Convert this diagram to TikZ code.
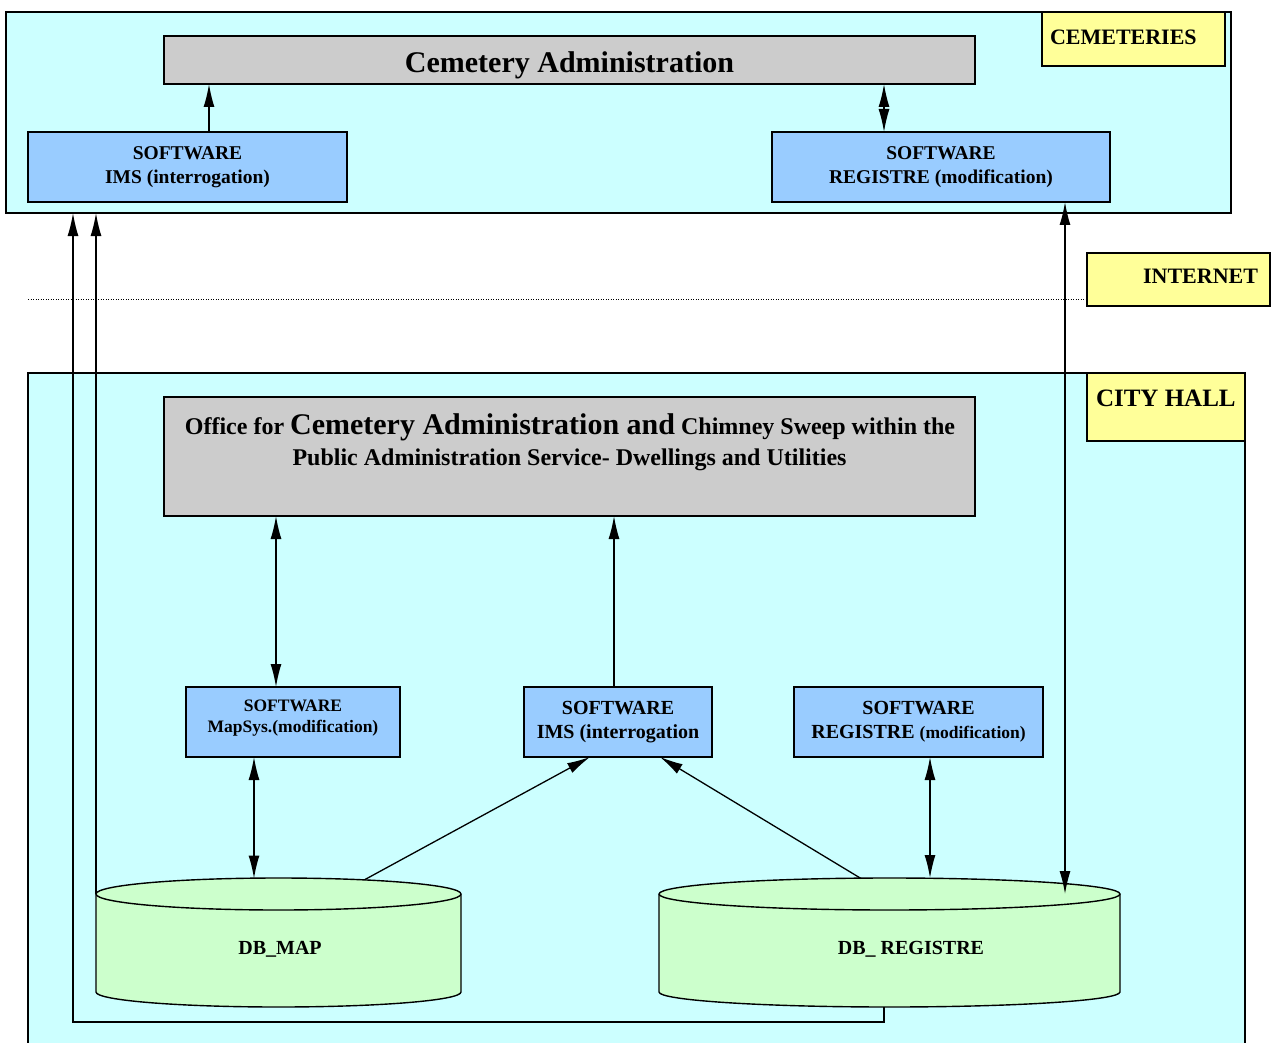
\documentclass[tikz,border=0pt]{standalone}
\usepackage{fontspec}
\setmainfont{Liberation Serif}
\usetikzlibrary{arrows.meta,calc}
\definecolor{cyanbg}{HTML}{CCFFFF}
\definecolor{graybox}{HTML}{CCCCCC}
\definecolor{bluebox}{HTML}{99CCFF}
\definecolor{yellowbox}{HTML}{FFFF99}
\definecolor{greendb}{HTML}{CCFFCC}
\newcommand\myfs[2]{\fontsize{#1}{#2}\selectfont}
\begin{document}
\begin{tikzpicture}[x=1pt,y=-1pt,
  box/.style={draw=black, line width=1.4pt, outer sep=0pt, inner sep=0pt},
  region/.style={box, fill=cyanbg},
  adminbox/.style={box, fill=graybox},
  soft/.style={box, fill=bluebox},
  tagbox/.style={box, fill=yellowbox},
  db/.style={draw=black, line width=1.4pt, fill=greendb},
  txt/.style={inner sep=0pt, outer sep=0pt, align=center, font=\bfseries},
  arr/.style={line width=1.3pt, -{Latex[length=23pt,width=11pt]}},
  darr/.style={line width=1.3pt, {Latex[length=23pt,width=11pt]}-{Latex[length=23pt,width=11pt]}},
]
\useasboundingbox (0,0) rectangle (1274,1043);
\clip (0,0) rectangle (1274,1043);

% regions
\node[region, minimum width=1225pt, minimum height=201pt] (cem) at (618.5,112.5) {};
\node[region, minimum width=1217pt, minimum height=700pt] (city) at (636.5,723) {};

% tags
\node[tagbox, minimum width=183pt, minimum height=54pt] (tcem) at (1133.5,39) {};
\node[txt, anchor=base west, font=\bfseries\myfs{22}{26}] (tcemt) at (1050,44.5) {CEMETERIES};
\node[tagbox, minimum width=183pt, minimum height=53pt] (tint) at (1178.5,279.5) {};
\node[txt, anchor=base east, font=\bfseries\myfs{22}{26}] (tintt) at (1258,283) {INTERNET};
\node[tagbox, minimum width=158pt, minimum height=68pt] (tcity) at (1166,407) {};
\node[txt, anchor=base west, font=\bfseries\myfs{25}{29}] (tcityt) at (1096,406) {CITY HALL};

% internet dotted line
\draw[line width=1pt, dash pattern=on 1pt off 1.5pt] (28,299) -- (tint.west |- 0,299);

% cemeteries side
\node[adminbox, minimum width=811pt, minimum height=48pt] (adm) at (569.5,60) {};
\node[txt, font=\bfseries\myfs{30}{34}] (admt) at (569.5,65) {Cemetery Administration};
\node[soft, minimum width=319pt, minimum height=70pt] (imsT) at (187.5,167) {};
\node[txt, font=\bfseries\myfs{19.5}{24}] (imsTt) at (187.5,167.5) {SOFTWARE\\IMS (interrogation)};
\node[soft, minimum width=338pt, minimum height=70pt] (regT) at (941,167) {};
\node[txt, font=\bfseries\myfs{19.5}{24}] (regTt) at (941,167.5) {SOFTWARE\\REGISTRE (modification)};

% city hall side
\node[adminbox, minimum width=811pt, minimum height=119pt] (off) at (569.5,456.5) {};
\node[txt, anchor=base, font=\bfseries\myfs{24}{28}] (offt1) at (570,434)
  {Office for {\myfs{30}{34}Cemetery Administration and} Chimney Sweep within the};
\node[txt, anchor=base, font=\bfseries\myfs{24}{28}] (offt2) at (569.5,465)
  {Public Administration Service- Dwellings and Utilities};

\node[soft, minimum width=214pt, minimum height=70pt] (map) at (293,722) {};
\node[txt, font=\bfseries\myfs{17.5}{21}] (mapt) at (293,718.5) {SOFTWARE\\MapSys.(modification)};
\node[soft, minimum width=188pt, minimum height=70pt] (imsB) at (618,722) {};
\node[txt, font=\bfseries\myfs{20}{24}] (imsBt) at (618,722) {SOFTWARE\\IMS (interrogation};
\node[soft, minimum width=249pt, minimum height=70pt] (regB) at (918.5,722) {};
\node[txt, font=\bfseries\myfs{20}{24}] (regBt) at (918.5,722) {SOFTWARE\\REGISTRE {\myfs{17.5}{24}(modification)}};

% databases
\filldraw[db] (96,894) -- (96,992) arc[start angle=180, end angle=360, x radius=182.5pt, y radius=15pt]
  -- (461,894) arc[start angle=0, end angle=180, x radius=182.5pt, y radius=16pt] -- cycle;
\draw[db, fill=none] (96,894) arc[start angle=180, end angle=360, x radius=182.5pt, y radius=16pt];
\node[txt, font=\bfseries\myfs{20}{24}] (dbmap) at (280,949) {DB\_MAP};
\filldraw[db] (659,894) -- (659,992) arc[start angle=180, end angle=360, x radius=230.5pt, y radius=15pt]
  -- (1120,894) arc[start angle=0, end angle=180, x radius=230.5pt, y radius=16pt] -- cycle;
\draw[db, fill=none] (659,894) arc[start angle=180, end angle=360, x radius=230.5pt, y radius=16pt];
\node[txt, font=\bfseries\myfs{20}{24}] (dbreg) at (911,949) {DB\_ REGISTRE};
\coordinate (dbmapW) at (96,894);
\coordinate (dbmapA) at (254,878.5);
\coordinate (dbmapB) at (365,879.5);
\coordinate (dbregA) at (861,878.5);
\coordinate (dbregB) at (930,878);
\coordinate (dbregC) at (1065,894);
\coordinate (dbregS) at (884,1007);

% connectors
\draw[arr] (209,0 |- imsT.north) -- (209,0 |- adm.south);
\draw[darr] (884,0 |- adm.south) -- (884,0 |- regT.north);
\draw[darr] (1065,0 |- regT.south) -- (dbregC);
\draw[arr] (dbmapW) -- (96,0 |- cem.south);
\draw[arr] (dbregS) -- (884,1022) -- (73,1022) -- (73,0 |- cem.south);
\draw[darr] (276,0 |- off.south) -- (276,0 |- map.north);
\draw[arr] (614,0 |- imsB.north) -- (614,0 |- off.south);
\draw[darr] (254,0 |- map.south) -- (dbmapA);
\draw[arr] (dbmapB) -- (590,0 |- imsB.south);
\draw[arr] (dbregA) -- (660,0 |- imsB.south);
\draw[darr] (930,0 |- regB.south) -- (dbregB);
\end{tikzpicture}
\end{document}
